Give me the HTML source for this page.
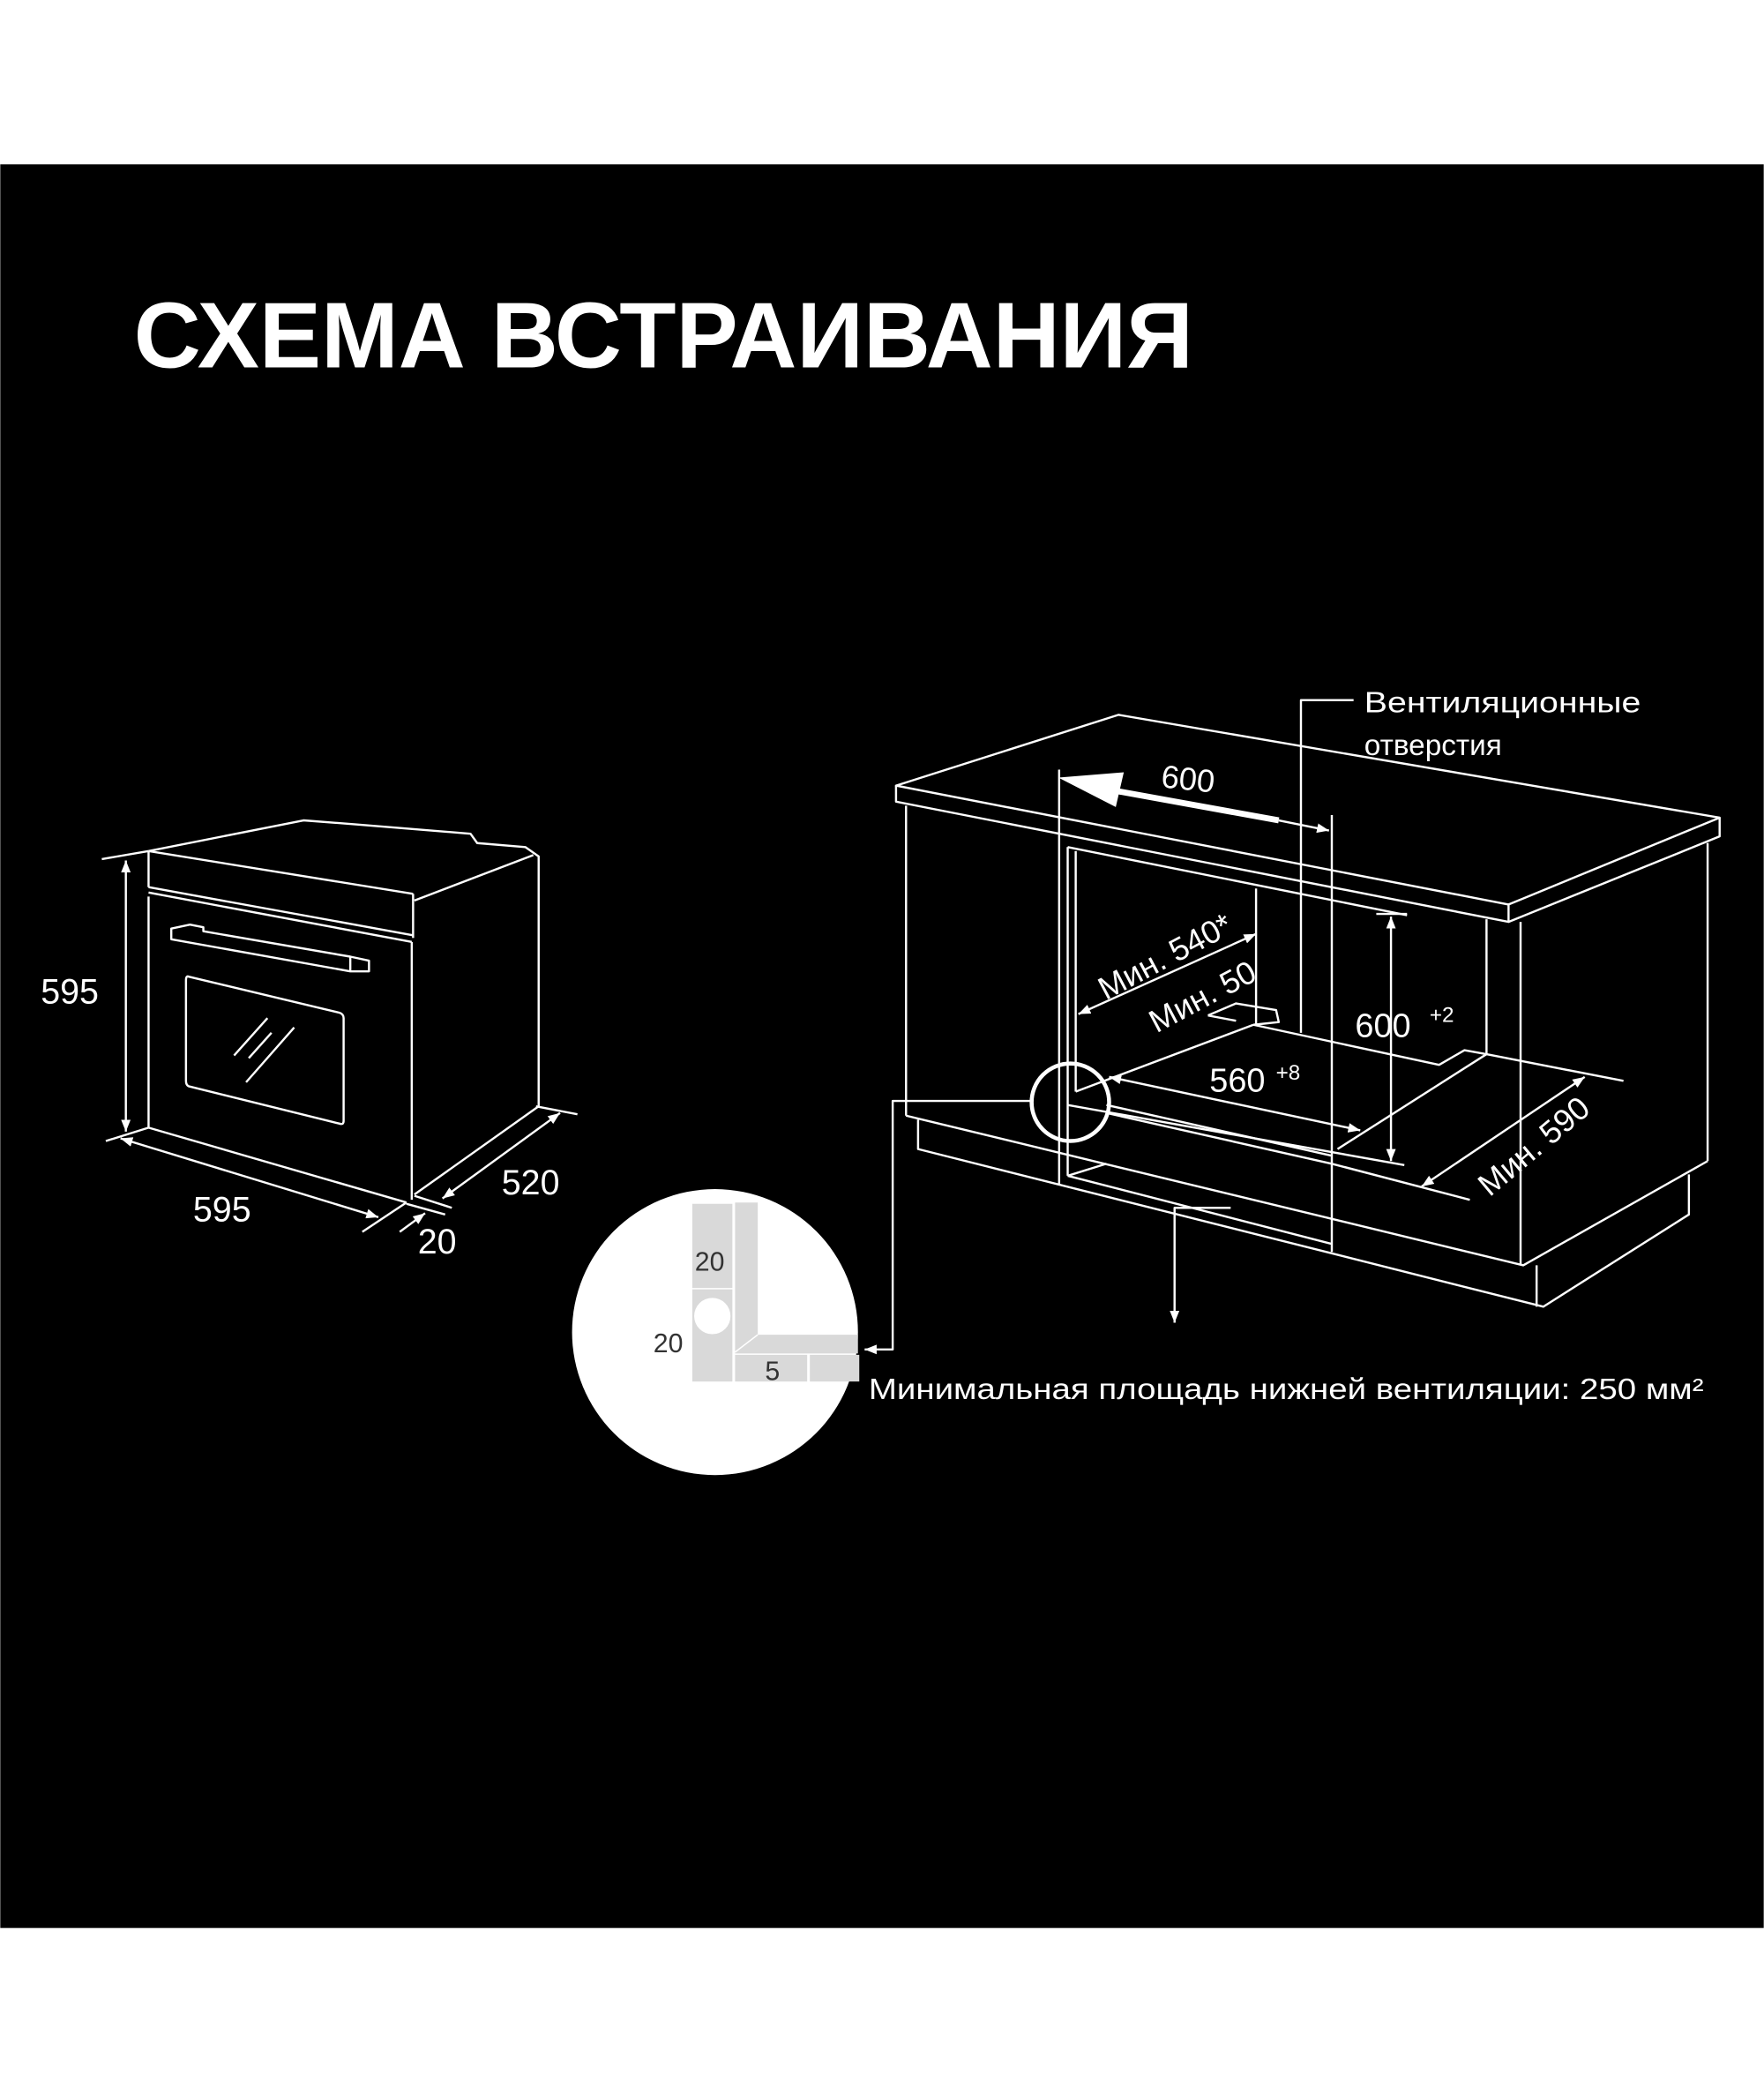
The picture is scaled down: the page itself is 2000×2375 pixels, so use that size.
<!DOCTYPE html>
<html><head><meta charset="utf-8"><style>
html,body{margin:0;padding:0;background:#fff;}
svg{display:block;}
text{font-family:"Liberation Sans",sans-serif;fill:#fff;}
</style></head><body>
<svg width="2000" height="2375" viewBox="0 0 1320 1568" xmlns="http://www.w3.org/2000/svg">
<defs>
<marker id="a" viewBox="0 0 10 10" refX="10" refY="5" markerWidth="9" markerHeight="9" markerUnits="userSpaceOnUse" orient="auto-start-reverse"><path d="M0,1 L10,5 L0,9 z" fill="#fff"/></marker>
</defs>
<rect x="0" y="0" width="1320" height="1568" fill="#fff"/>
<rect x="0" y="123" width="1320" height="1320" fill="#000"/>
<text x="100" y="275" font-size="70" font-weight="bold" textLength="793" lengthAdjust="spacingAndGlyphs">СХЕМА ВСТРАИВАНИЯ</text>

<g fill="none" stroke="#fff" stroke-width="1.6" stroke-linejoin="round">
<!-- left oven -->
<polyline points="111,637 227,614 266,617 352,624 357,631 393,634 403,641 403,828 310,894"/>
<line x1="111" y1="637" x2="309" y2="669"/>
<line x1="309" y1="669" x2="309" y2="702"/>
<line x1="310" y1="674" x2="399" y2="640"/>
<line x1="111" y1="637" x2="111" y2="664"/>
<line x1="111" y1="664" x2="309" y2="700"/>
<line x1="111" y1="668" x2="308" y2="705"/>
<line x1="111" y1="671" x2="111" y2="844"/>
<line x1="308" y1="705" x2="308" y2="898"/>
<line x1="111" y1="844" x2="304" y2="900"/>
<polygon points="128,695 142,692 152,694 152,697 262,716 276,719 276,727 262,727 128,703"/>
<line x1="262" y1="716" x2="262" y2="727"/>
<path d="M141,731 L254,758 Q257,759 257,762 L257,839 Q257,842 254,841 L141,813 Q139,812 139,809 L139,734 Q139,730 141,731 Z"/>
<line x1="175" y1="790" x2="200" y2="762"/>
<line x1="186" y1="792" x2="203" y2="773"/>
<line x1="184" y1="810" x2="220" y2="769"/>
<!-- dims -->
<line x1="94" y1="644" x2="94" y2="847" marker-start="url(#a)" marker-end="url(#a)"/>
<line x1="76" y1="643" x2="111" y2="637"/>
<line x1="79" y1="854" x2="111" y2="844"/>
<line x1="90" y1="852" x2="283" y2="911" marker-start="url(#a)" marker-end="url(#a)"/>
<line x1="271" y1="922" x2="304" y2="900"/>
<line x1="331" y1="897" x2="419" y2="833" marker-start="url(#a)" marker-end="url(#a)"/>
<line x1="310" y1="895" x2="338" y2="904"/>
<line x1="401" y1="828" x2="432" y2="834"/>
<line x1="304" y1="901" x2="333" y2="909"/>
<line x1="299" y1="922" x2="318" y2="908" marker-end="url(#a)"/>

<!-- cabinet -->
<polygon points="670.5,588 837,535 1287,612 1129,677"/>
<polyline points="670.5,588 670.5,600 1129,690 1287,626 1287,612"/>
<line x1="1129" y1="677" x2="1129" y2="690"/>
<line x1="678" y1="603" x2="678" y2="835"/>
<line x1="1278" y1="631" x2="1278" y2="869"/>
<line x1="1138" y1="690" x2="1138" y2="947"/>
<line x1="1112.5" y1="688" x2="1112.5" y2="789"/>
<polyline points="678,835 1140,947 1278,869"/>
<polyline points="687,838 687,860 1155,978 1264,909 1264,879"/>
<line x1="1150" y1="947" x2="1150" y2="978"/>
<line x1="792.6" y1="576" x2="792.6" y2="887"/>
<line x1="799" y1="634" x2="799" y2="880"/>
<line x1="805" y1="637" x2="805" y2="817"/>
<line x1="799" y1="634" x2="1053" y2="685"/>
<line x1="940" y1="665" x2="940" y2="767"/>
<polyline points="1013,524 973.6,524 973.6,773"/>
<line x1="996.7" y1="610" x2="996.7" y2="937"/>
<polyline points="938,767 1077,797 1096,786 1112.5,789 1215,809"/>
<polyline points="904,760 925,751 955,756 957,765 938,767"/>
<line x1="904" y1="760" x2="925" y2="764"/>
<line x1="805" y1="817" x2="938" y2="767"/>
<line x1="1001" y1="860" x2="1112.5" y2="789"/>
<line x1="799" y1="827" x2="1051" y2="872"/>
<line x1="799" y1="880" x2="996.7" y2="931"/>
<line x1="799" y1="880" x2="828" y2="871"/>
<line x1="828" y1="827" x2="996.7" y2="865"/>
<line x1="828" y1="833" x2="996.7" y2="871"/>
<line x1="996.7" y1="871" x2="1100" y2="898"/>
<line x1="830" y1="806" x2="1018" y2="846" marker-start="url(#a)" marker-end="url(#a)"/>
<line x1="807" y1="759" x2="940" y2="699" marker-start="url(#a)" marker-end="url(#a)"/>
<line x1="1041" y1="686" x2="1041" y2="869" marker-start="url(#a)" marker-end="url(#a)"/>
<line x1="1030" y1="684" x2="1053" y2="684"/>
<line x1="1064" y1="888" x2="1186" y2="806" marker-start="url(#a)" marker-end="url(#a)"/>
<line x1="957" y1="614" x2="994.6" y2="621.6" marker-end="url(#a)"/>
<!-- circle marker + leaders -->
<circle cx="801" cy="825" r="29" stroke-width="3"/>
<polyline points="772,824 668,824 668,1010 647,1010" marker-end="url(#a)"/>
<polyline points="921,904 879,904 879,990" marker-end="url(#a)"/>
</g>
<!-- big arrow 600 -->
<line x1="830" y1="591" x2="957" y2="614" stroke="#fff" stroke-width="4.5"/>
<polygon points="792,582 841,578 835,604" fill="#fff"/>

<!-- inset -->
<circle cx="535" cy="997" r="107" fill="#fff"/>
<g fill="#d9d9d9">
<rect x="518" y="901" width="30" height="63"/>
<rect x="518" y="965" width="30" height="69"/>
<polygon points="550,900 567,900 567,999 642,999 642,1013 550,1013"/>
<rect x="550" y="1014" width="54" height="20"/>
<rect x="606" y="1014" width="37" height="20"/>
</g>
<line x1="550" y1="1012" x2="567" y2="999" stroke="#fff" stroke-width="1"/>
<circle cx="533" cy="985" r="13.6" fill="#fff"/>
<text x="531" y="951" font-size="20" text-anchor="middle" style="fill:#333">20</text>
<text x="500" y="1012" font-size="20" text-anchor="middle" style="fill:#333">20</text>
<text x="578" y="1033" font-size="20" text-anchor="middle" style="fill:#333">5</text>

<!-- labels -->
<text x="52" y="751" font-size="26" text-anchor="middle">595</text>
<text x="166" y="914" font-size="26" text-anchor="middle">595</text>
<text x="397" y="894" font-size="26" text-anchor="middle">520</text>
<text x="327" y="938" font-size="26" text-anchor="middle">20</text>
<text x="1021" y="533" font-size="22" textLength="207" lengthAdjust="spacingAndGlyphs">Вентиляционные</text>
<text x="1021" y="565" font-size="22">отверстия</text>
<text x="889" y="591" font-size="24" text-anchor="middle" transform="rotate(6 887 584)">600</text>
<text x="872" y="724" font-size="24" text-anchor="middle" transform="rotate(-28 872 716)">Мин. 540*</text>
<text x="900" y="754" font-size="24" text-anchor="middle" transform="rotate(-28 900 746)">Мин. 50</text>
<text x="1035" y="776" font-size="25" text-anchor="middle">600</text>
<text x="1079" y="765" font-size="16" text-anchor="middle">+2</text>
<text x="926" y="817" font-size="25" text-anchor="middle">560</text>
<text x="964" y="808" font-size="16" text-anchor="middle">+8</text>
<text x="1148" y="866" font-size="24" text-anchor="middle" transform="rotate(-40 1148 858)">Мин. 590</text>
<text x="650" y="1047" font-size="22" textLength="625" lengthAdjust="spacingAndGlyphs">Минимальная площадь нижней вентиляции: 250 мм²</text>
</svg>
</body></html>
